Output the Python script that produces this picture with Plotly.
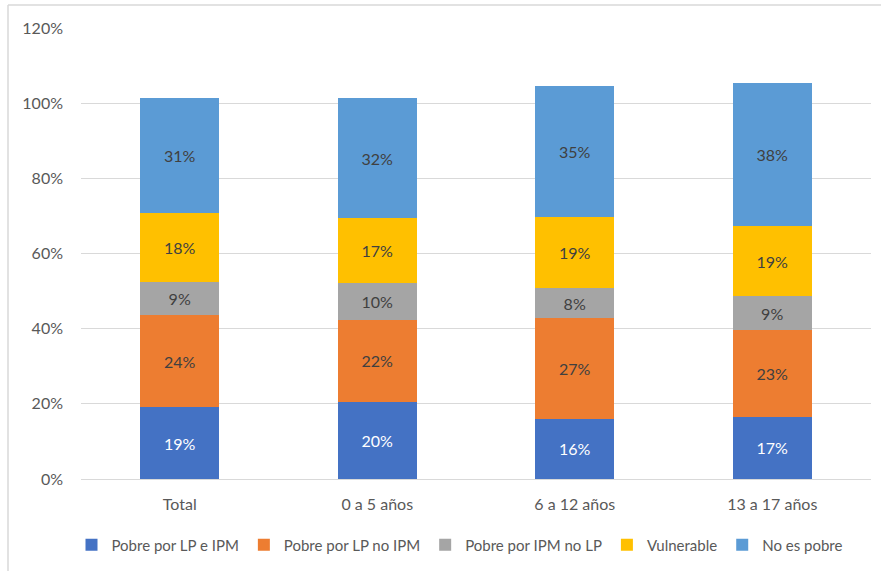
import plotly.graph_objects as go

categories = ["Total", "0 a 5 años", "6 a 12 años", "13 a 17 años"]
series_names = ["Pobre por LP e IPM", "Pobre por LP no IPM", "Pobre por IPM no LP", "Vulnerable", "No es pobre"]
pobre_lp_ipm = [19.1, 20.5, 16.0, 16.6]
pobre_lp_no_ipm = [24.5, 21.8, 26.8, 23.0]
pobre_ipm_no_lp = [8.7, 9.8, 8.0, 9.0]
vulnerable = [18.4, 17.3, 18.9, 18.7]
no_pobre = [30.6, 31.9, 34.8, 38.0]
y_ticks = [0, 20, 40, 60, 80, 100, 120]

colors = ["#4472C4", "#ED7D31", "#A5A5A5", "#FFC000", "#5B9BD5"]
text_colors = ["#FFFFFF", "#404040", "#404040", "#404040", "#404040"]
all_series = [pobre_lp_ipm, pobre_lp_no_ipm, pobre_ipm_no_lp, vulnerable, no_pobre]

FONT = "Lato, Open Sans, sans-serif"

fig = go.Figure()
for name, vals, col, tcol in zip(series_names, all_series, colors, text_colors):
    fig.add_trace(go.Bar(
        x=categories, y=vals, name=name,
        marker=dict(color=col, line=dict(width=0)),
        text=[f"{round(v):d}%" for v in vals],
        textposition="inside", insidetextanchor="middle",
        textfont=dict(color=tcol, size=16, family=FONT),
        hoverinfo="skip",
    ))

W, H = 881, 571
L, R, T, B = 81, 10, 28, 92
pw, ph = W - L - R, H - T - B

def px(x):
    return (x - L) / pw

def py(y):
    return (H - B - y) / ph

fig.update_layout(
    width=W, height=H,
    barmode="stack", bargap=0.6,
    margin=dict(l=L, r=R, t=T, b=B, autoexpand=False),
    paper_bgcolor="white", plot_bgcolor="white",
    font=dict(family=FONT, color="#595959", size=16),
    uniformtext=dict(mode=False),
    xaxis=dict(showgrid=False, showline=False, ticks="", automargin=False,
               tickfont=dict(size=16, color="#595959"), ticklabelstandoff=14),
    yaxis=dict(range=[0, 120], tickvals=y_ticks, ticktext=[f"{t}%" for t in y_ticks],
               showgrid=True, gridcolor="#D9D9D9", gridwidth=1, zeroline=True,
               zerolinecolor="#D9D9D9", zerolinewidth=1, ticks="", showline=False,
               automargin=False,
               tickfont=dict(size=16, color="#595959"), ticklabelstandoff=17),
    legend=dict(orientation="h", x=px(460), xanchor="center", y=py(545), yanchor="middle",
                font=dict(size=15, color="#595959"), itemwidth=30, traceorder="normal",
                itemclick=False, tracegroupgap=0),
    showlegend=True,
    shapes=[
        dict(type="line", xref="paper", yref="paper", x0=px(8), x1=px(881), y0=py(5), y1=py(5),
             line=dict(color="#D9D9D9", width=1.5)),
        dict(type="line", xref="paper", yref="paper", x0=px(8), x1=px(8), y0=py(5), y1=py(571),
             line=dict(color="#D9D9D9", width=1.5)),
    ],
)

fig.write_html("out.html", config={"displayModeBar": False})

with open("out.html", "r", encoding="utf-8") as f:
    html = f.read()
html = html.replace("<head>", "<head><style>html,body{margin:0;padding:0;}</style>", 1)
with open("out.html", "w", encoding="utf-8") as f:
    f.write(html)
